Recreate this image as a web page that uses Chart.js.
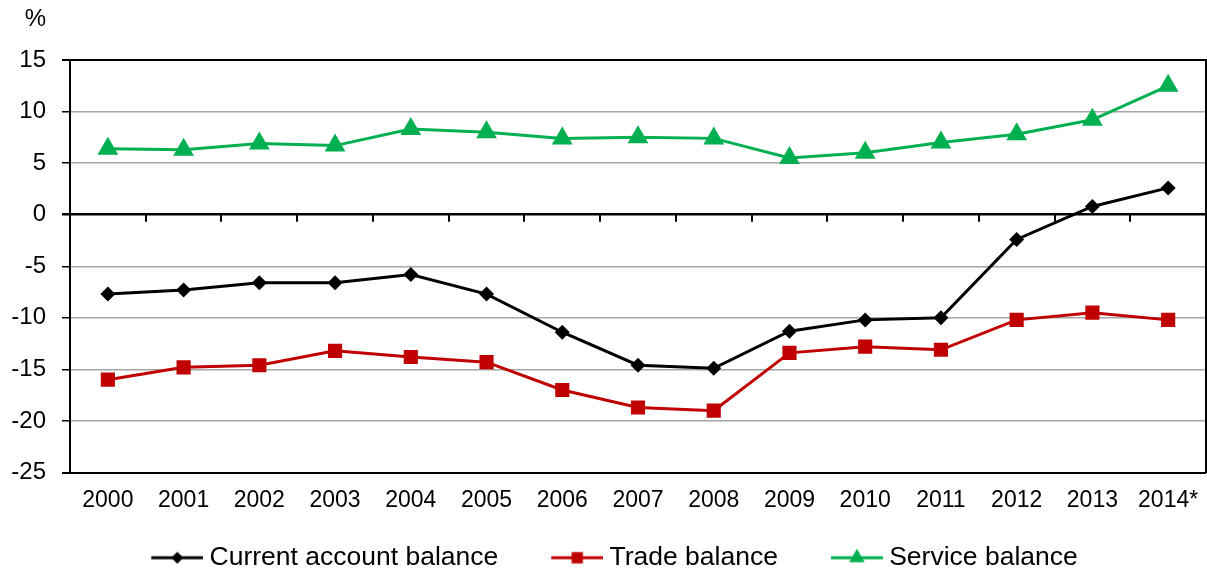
<!DOCTYPE html>
<html>
<head>
<meta charset="utf-8">
<script src="https://cdn.jsdelivr.net/npm/chart.js@4/dist/chart.umd.min.js"></script>
<style>
  html, body { margin: 0; padding: 0; background: #fff; }
</style>
</head>
<body>
<canvas id="balanceChart" width="1207" height="572"></canvas>
<script>
const years = ['2000', '2001', '2002', '2003', '2004', '2005', '2006', '2007',
               '2008', '2009', '2010', '2011', '2012', '2013', '2014*'];
const currentAccount = [-7.7, -7.3, -6.6, -6.6, -5.8, -7.7, -11.4, -14.6, -14.9, -11.3, -10.2, -10.0, -2.4, 0.8, 2.6];
const tradeBalance = [-16.0, -14.8, -14.6, -13.2, -13.8, -14.3, -17.0, -18.7, -19.0, -13.4, -12.8, -13.1, -10.2, -9.5, -10.2];
const serviceBalance = [6.4, 6.3, 6.9, 6.7, 8.3, 8.0, 7.4, 7.5, 7.4, 5.5, 6.0, 7.0, 7.8, 9.2, 12.5];
const seriesNames = ['Current account balance', 'Trade balance', 'Service balance'];
const unitLabel = '%';
const yMin = -25, yMax = 15, yStep = 5;

const FONT = '"Liberation Sans", Arial, sans-serif';
const BLACK = '#000000', RED = '#C00000', GREEN = '#00B050';

// legend swatch: short line with the series marker in the middle
function legendIcon(color, style, radius) {
    const c = document.createElement('canvas');
    c.width = 112;
    c.height = 28;
    const g = c.getContext('2d');
    g.strokeStyle = color;
    g.lineWidth = 3;
    g.beginPath();
    g.moveTo(60, 14);
    g.lineTo(112, 14);
    g.stroke();
    g.fillStyle = color;
    Chart.helpers.drawPoint(g, { pointStyle: style, radius: radius, borderWidth: 0 }, 86, 14);
    return c;
}
const legendIcons = [
    legendIcon(BLACK, 'rectRot', 6),
    legendIcon(RED, 'rect', 8),
    legendIcon(GREEN, 'triangle', 9)
];

// small tick marks hanging under the zero line, between the years
const zeroTicks = {
    id: 'zeroTicks',
    beforeDatasetsDraw(chart) {
        const xs = chart.scales.x, ys = chart.scales.y;
        const y0 = ys.getPixelForValue(0);
        const ctx = chart.ctx;
        ctx.save();
        ctx.strokeStyle = BLACK;
        ctx.lineWidth = 2;
        ctx.beginPath();
        for (let i = 1; i < years.length; i++) {
            const x = Math.round(xs.getPixelForValue(i - 0.5));
            ctx.moveTo(x, y0);
            ctx.lineTo(x, y0 + 7);
        }
        ctx.stroke();
        ctx.restore();
    }
};

// unit label above the value axis
const unitTitle = {
    id: 'unitTitle',
    afterDraw(chart) {
        const ctx = chart.ctx;
        ctx.save();
        ctx.font = '24px ' + FONT;
        ctx.fillStyle = BLACK;
        ctx.textAlign = 'right';
        ctx.textBaseline = 'middle';
        ctx.fillText(unitLabel, chart.chartArea.left - 24, chart.chartArea.top - 41);
        ctx.restore();
    }
};

// nudge the legend row a little to the left of the canvas centre
const legendShift = {
    id: 'legendShift',
    afterLayout(chart) {
        chart.legend.left -= 15;
        chart.legend.right -= 15;
    }
};

function edgeValue(v) {
    return v === 0 || v === yMin || v === yMax;
}

new Chart(document.getElementById('balanceChart'), {
    type: 'line',
    data: {
        labels: years,
        datasets: [
            {
                label: seriesNames[0],
                data: currentAccount,
                borderColor: BLACK,
                backgroundColor: BLACK,
                borderWidth: 3,
                pointStyle: 'rectRot',
                pointRadius: 7.5,
                pointBorderWidth: 0
            },
            {
                label: seriesNames[1],
                data: tradeBalance,
                borderColor: RED,
                backgroundColor: RED,
                borderWidth: 3,
                pointStyle: 'rect',
                pointRadius: 10,
                pointBorderWidth: 0
            },
            {
                label: seriesNames[2],
                data: serviceBalance,
                borderColor: GREEN,
                backgroundColor: GREEN,
                borderWidth: 3,
                pointStyle: 'triangle',
                pointRadius: 12,
                pointBorderWidth: 0
            }
        ]
    },
    options: {
        responsive: false,
        animation: false,
        layout: {
            autoPadding: false,
            padding: { top: 60, right: 1, left: 0, bottom: -9 }
        },
        plugins: {
            tooltip: { enabled: false },
            legend: {
                position: 'bottom',
                labels: {
                    usePointStyle: true,
                    pointStyleWidth: 98,
                    padding: 0,
                    color: BLACK,
                    font: { family: FONT, size: 26.5 },
                    generateLabels(chart) {
                        const items = Chart.defaults.plugins.legend.labels.generateLabels(chart);
                        items.forEach((it, i) => { it.pointStyle = legendIcons[i]; });
                        return items;
                    }
                }
            }
        },
        scales: {
            x: {
                offset: true,
                grid: { display: false, drawTicks: false, offset: true },
                border: { display: false },
                ticks: {
                    color: BLACK,
                    padding: 14,
                    maxRotation: 0,
                    autoSkip: false,
                    font: { family: FONT, size: 23 }
                },
                afterFit(scale) {
                    scale.height = 72;
                    scale.paddingLeft = 0;
                    scale.paddingRight = 0;
                }
            },
            y: {
                min: yMin,
                max: yMax,
                border: { color: BLACK, width: 2 },
                grid: {
                    color: c => edgeValue(c.tick.value) ? BLACK : '#A6A6A6',
                    lineWidth: c => c.tick.value === 0 ? 2.5 : (edgeValue(c.tick.value) ? 2 : 1.5),
                    tickColor: BLACK,
                    tickLength: 8
                },
                ticks: {
                    stepSize: yStep,
                    color: BLACK,
                    padding: 16,
                    font: { family: FONT, size: 24 }
                },
                afterFit(scale) { scale.width = 70; }
            },
            y2: {
                position: 'right',
                min: yMin,
                max: yMax,
                ticks: { display: false },
                grid: { display: false, drawTicks: false },
                border: { color: BLACK, width: 2 },
                afterFit(scale) { scale.width = 0; }
            }
        }
    },
    plugins: [zeroTicks, unitTitle, legendShift]
});
</script>
</body>
</html>
